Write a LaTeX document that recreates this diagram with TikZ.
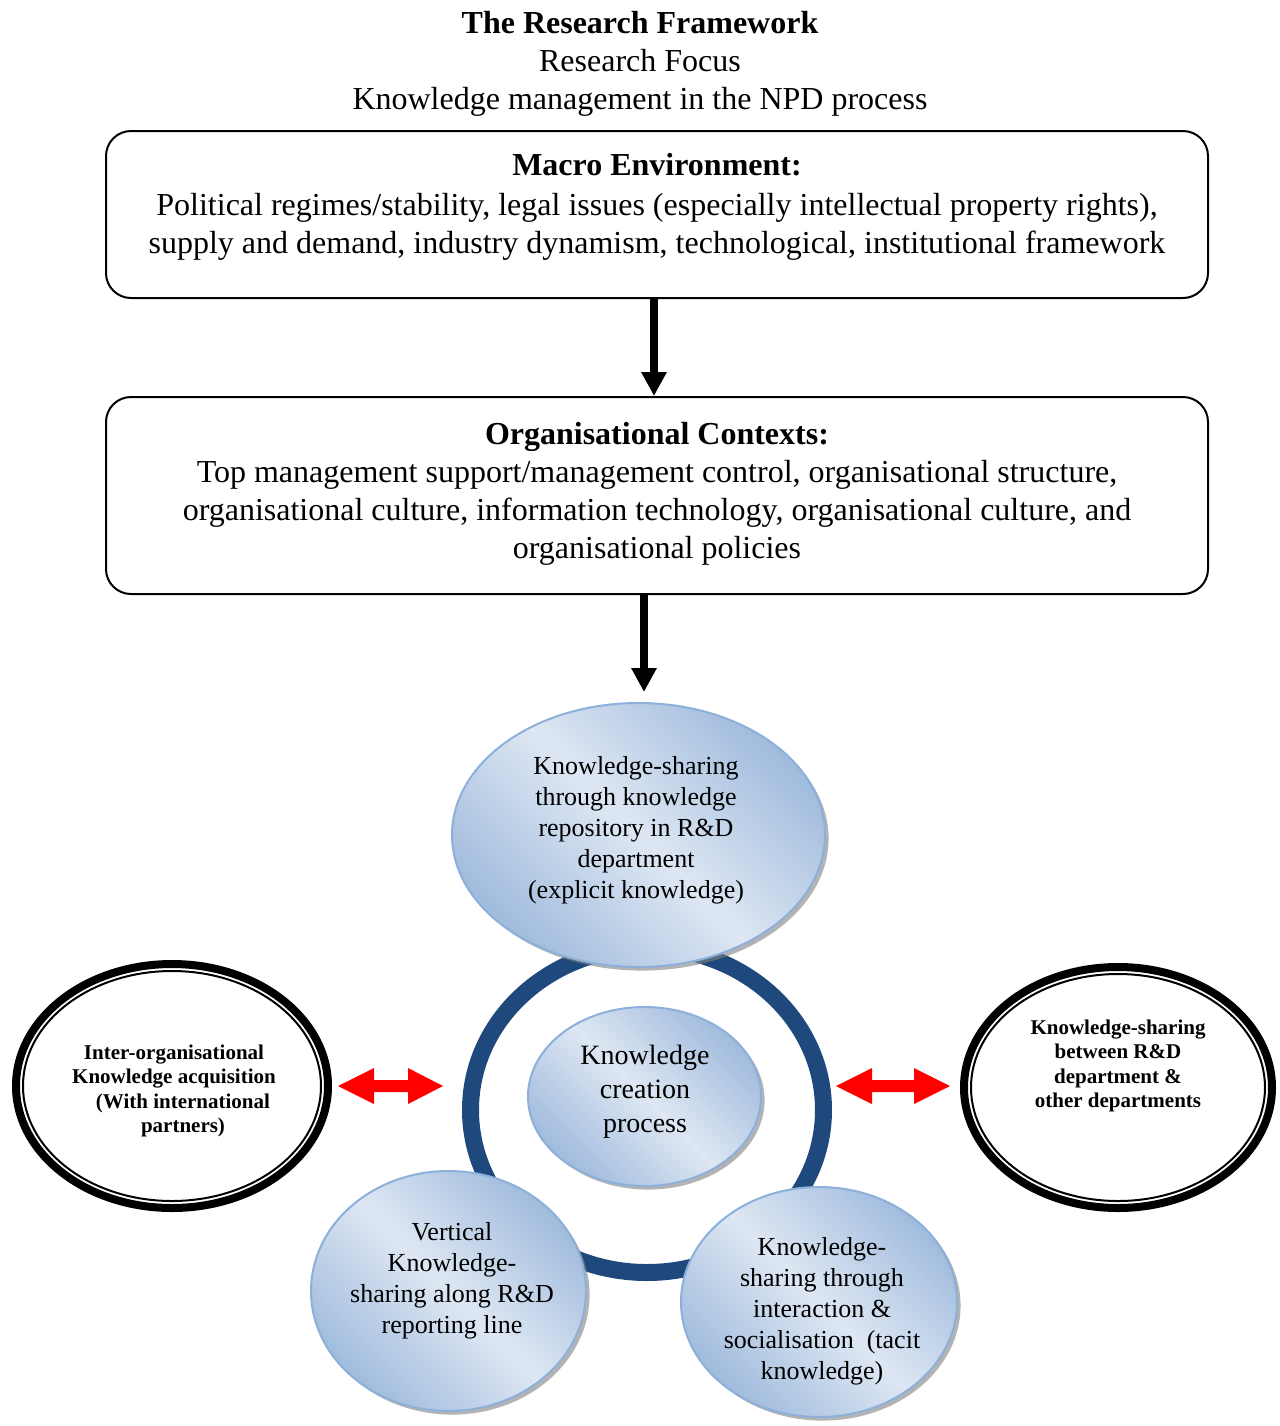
\documentclass[tikz,border=0pt]{standalone}
\usepackage{fontspec}
\setmainfont{Liberation Serif}
\usetikzlibrary{arrows.meta,shapes.geometric,shadows}

\definecolor{ringblue}{RGB}{31,73,125}
\definecolor{bubbledark}{RGB}{160,187,221}
\definecolor{bubblelight}{RGB}{222,231,243}
\definecolor{bubbleedge}{RGB}{141,176,218}

\begin{document}
\begin{tikzpicture}[x=0.5pt,y=-0.5pt,
  maintext/.style={align=center, inner sep=0pt, font=\fontsize{16pt}{19pt}\selectfont},
  panel/.style={draw, line width=1pt, rounded corners=12.5pt, minimum width=551pt, inner sep=0pt},
  flow/.style={line width=4pt, -{Triangle[width=12pt,length=12pt]}},
  bubble/.style={ellipse, draw=bubbleedge, line width=1pt, inner sep=0pt,
    top color=bubbledark, bottom color=bubbledark, middle color=bubblelight,
    shading angle=-45,
    drop shadow={shadow xshift=1.8pt, shadow yshift=-1.8pt, fill=black!50, opacity=0.6}},
  bubbletext/.style={align=center, inner sep=0pt, font=\fontsize{13pt}{15.5pt}\selectfont},
  ringed/.style={ellipse, draw, line width=4pt, inner sep=0pt, fill=white},
  ringedtext/.style={align=center, inner sep=0pt, font=\bfseries\fontsize{10.5pt}{12.2pt}\selectfont},
  fatarrow/.style={fill=red}
]
% page frame
\useasboundingbox (0,0) rectangle (1280,1426);

% heading
\node[maintext] (heading) at (640,64)
  {\textbf{The Research Framework}\\Research Focus\\Knowledge management in the NPD process};

% macro environment panel
\node[panel, minimum height=83.5pt] (macro) at (657,214.5) {};
\node[maintext] (macrotext) at (657,207)
  {\textbf{Macro Environment:}\\[1pt]
   Political regimes/stability, legal issues (especially intellectual property rights),\\
   supply and demand, industry dynamism, technological, institutional framework};

% organisational contexts panel
\node[panel, minimum height=98.5pt] (org) at (657,495.5) {};
\node[maintext] (orgtext) at (657,494)
  {\textbf{Organisational Contexts:}\\
   Top management support/management control, organisational structure,\\
   organisational culture, information technology, organisational culture, and\\
   organisational policies};

% vertical flow arrows
\coordinate (kstop) at (644,692);
\draw[flow] ([xshift=-1.5pt]macro.south) -- ([xshift=-1.5pt]org.north);
\draw[flow] ([xshift=-6.5pt]org.south) -- (kstop);

% knowledge creation ring
\draw[ringblue, line width=8.5pt] (647,1110) ellipse [x radius=88.25pt, y radius=81.25pt];

% knowledge-sharing bubbles
\node[bubble, minimum width=186.5pt, minimum height=132pt] (repo) at (638.5,835) {};
\node[bubbletext] (repotext) at (636,830)
  {Knowledge-sharing\\through knowledge\\repository in R\&D\\department\\(explicit knowledge)};

\node[bubble, minimum width=137.5pt, minimum height=120pt] (vertical) at (448.5,1291) {};
\node[bubbletext] (verticaltext) at (452,1281)
  {Vertical\\Knowledge-\\sharing along R\&D\\reporting line};

\node[bubble, minimum width=138pt, minimum height=115pt] (tacit) at (819,1302) {};
\node[bubbletext] (tacittext) at (822,1311)
  {Knowledge-\\sharing through\\interaction \&\\socialisation~~(tacit\\knowledge)};

\node[bubble, minimum width=116.5pt, minimum height=89.5pt] (creation) at (644.5,1096.5) {};
\node[align=center, inner sep=0pt, font=\fontsize{14pt}{17pt}\selectfont] (creationtext) at (645,1092)
  {Knowledge\\creation\\process};

% external knowledge sources
\node[ringed, minimum width=156pt, minimum height=122pt] (partners) at (172,1086) {};
\draw[line width=1pt] (partners.center) ellipse [x radius=74.5pt, y radius=57.5pt];
\node[ringedtext] (partnerstext) at (174,1091)
  {Inter-organisational\\Knowledge acquisition\\\hspace*{9pt}(With international\\\hspace*{9pt}partners)};

\node[ringed, minimum width=154pt, minimum height=120.5pt] (depts) at (1118,1087.5) {};
\draw[line width=1pt] (depts.center) ellipse [x radius=73.5pt, y radius=56.75pt];
\node[ringedtext] (deptstext) at (1118,1066)
  {Knowledge-sharing\\between R\&D\\department \&\\other departments};

% two-way exchange arrows
\fill[fatarrow] (338,1086) -- (374,1068) -- (374,1080) -- (408,1080) -- (408,1068)
  -- (443,1086) -- (408,1104) -- (408,1092) -- (374,1092) -- (374,1104) -- cycle;
\fill[fatarrow] (836,1086) -- (872,1068) -- (872,1080) -- (914,1080) -- (914,1068)
  -- (950,1086) -- (914,1104) -- (914,1092) -- (872,1092) -- (872,1104) -- cycle;
\end{tikzpicture}
\end{document}
